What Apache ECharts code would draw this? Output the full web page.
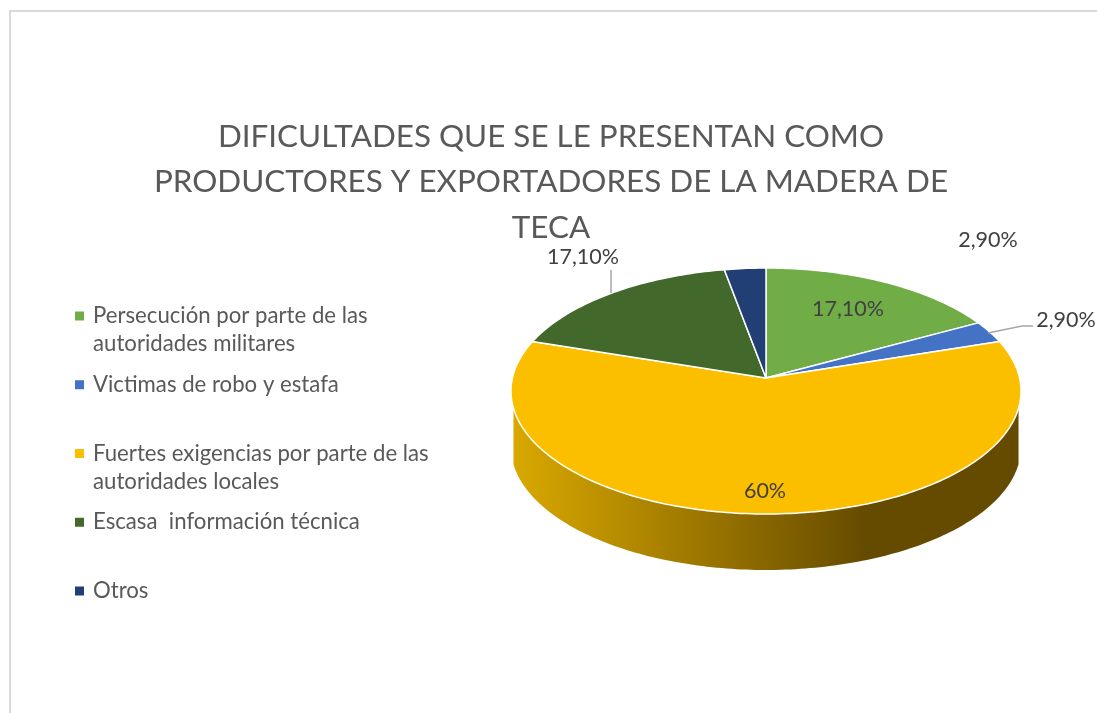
<!DOCTYPE html>
<html>
<head>
<meta charset="utf-8">
<script src="https://cdn.jsdelivr.net/npm/echarts@6/dist/echarts.min.js"></script>
<style>
html, body { margin: 0; padding: 0; background: #fff; }
#chart { width: 1097px; height: 713px; }
</style>
</head>
<body>
<div id="chart"></div>
<script>
var titleText = 'DIFICULTADES QUE SE LE PRESENTAN COMO\nPRODUCTORES Y EXPORTADORES DE LA MADERA DE\nTECA';
var categories = [
    'Persecución por parte de las\nautoridades militares',
    'Victimas de robo y estafa',
    'Fuertes exigencias por parte de las\nautoridades locales',
    'Escasa  información técnica',
    'Otros'
];
var values = [17.1, 2.9, 60, 17.1, 2.9];
var valueLabels = ['17,10%', '2,90%', '60%', '17,10%', '2,90%'];
var colors = ['#70ad47', '#4472c4', '#fcbf00', '#43682b', '#223f75'];

// where each data label sits, and its leader line if it has one
var labelSpots = [
    { x: 848, y: 309 },
    { x: 1066, y: 320, leader: [[988, 333], [1022, 326], [1033, 326]] },
    { x: 765, y: 491 },
    { x: 583, y: 257, leader: [[611, 270], [611, 293]] },
    { x: 988, y: 240 }
];

// pie top is a tilted circle, so the far half looks shorter than the near half
var pie = { cx: 766, cy: 378, a: 253.6, b: 121.6, k: 0.1057, depth: 56 };
var sideFrom = 104, sideTo = 256; // degrees, the part of the rim with a visible wall

function rimPoint(deg, drop) {
    var t = deg * Math.PI / 180;
    var d = 1 + pie.k * Math.cos(t);
    return [
        pie.cx + pie.a * Math.sin(t) / d,
        pie.cy - pie.b * Math.cos(t) / d + (drop || 0)
    ];
}

function arc(from, to, drop) {
    var pts = [];
    var n = Math.max(2, Math.ceil(to - from));
    for (var i = 0; i <= n; i++) {
        pts.push(rimPoint(from + (to - from) * i / n, drop));
    }
    return pts;
}

function renderSlice(params, api) {
    var idx = params.seriesIndex;
    var start = api.value(0) * 3.6;
    var end = api.value(1) * 3.6;
    var children = [];

    var wallFrom = Math.max(start, sideFrom);
    var wallTo = Math.min(end, sideTo);
    if (wallTo > wallFrom) {
        children.push({
            type: 'polygon',
            shape: { points: arc(wallFrom, wallTo, 0).concat(arc(wallFrom, wallTo, pie.depth).reverse()) },
            style: {
                fill: {
                    type: 'linear', x: 0, y: 0, x2: 1, y2: 0,
                    colorStops: [
                        { offset: 0, color: '#d9a800' },
                        { offset: 0.7, color: '#654b00' },
                        { offset: 1, color: '#654b00' }
                    ]
                }
            }
        });
    }

    children.push({
        type: 'polygon',
        shape: { points: [[pie.cx, pie.cy]].concat(arc(start, end, 0)) },
        style: { fill: colors[idx], stroke: '#fff', lineWidth: 1.5, lineJoin: 'round' }
    });

    var spot = labelSpots[idx];
    if (spot.leader) {
        children.push({
            type: 'polyline',
            shape: { points: spot.leader },
            style: { fill: null, stroke: '#a6a6a6', lineWidth: 1.5 }
        });
    }
    children.push({
        type: 'text',
        style: {
            text: valueLabels[idx],
            x: spot.x,
            y: spot.y,
            align: 'center',
            verticalAlign: 'middle',
            fill: '#404040',
            font: '21.5px Lato'
        }
    });
    return { type: 'group', children: children };
}

var running = 0;
var series = categories.map(function (name, i) {
    var from = running;
    running += values[i];
    return {
        type: 'custom',
        name: name,
        coordinateSystem: 'none',
        silent: true,
        itemStyle: { color: colors[i] },
        data: [[from, running]],
        renderItem: renderSlice
    };
});

var myChart = echarts.init(document.getElementById('chart'));
myChart.setOption({
    animation: false,
    backgroundColor: '#fff',
    title: {
        text: titleText,
        left: 546,
        top: 109,
        textAlign: 'center',
        textStyle: {
            color: '#595959',
            fontFamily: 'Lato',
            fontWeight: 'normal',
            fontSize: 31.4,
            lineHeight: 45.5
        }
    },
    legend: {
        orient: 'vertical',
        left: 75,
        top: 274,
        padding: 0,
        itemWidth: 9,
        itemHeight: 9,
        itemGap: -15.25,
        icon: 'rect',
        selectedMode: false,
        data: categories,
        // blank first line keeps the marker beside the first line of text
        formatter: function (name) {
            var lines = name.split('\n');
            return '\n' + lines[0] + '\n' + (lines[1] || ' ');
        },
        textStyle: {
            color: '#595959',
            fontFamily: 'Lato',
            fontSize: 22.2,
            lineHeight: 28,
            padding: [0, 0, 0, 4]
        }
    },
    graphic: [{
        type: 'polyline',
        silent: true,
        shape: { points: [[10, 713], [10, 11], [1097, 11]] },
        style: { fill: null, stroke: '#d9d9d9', lineWidth: 2 }
    }],
    series: series
});
window.addEventListener('resize', function () {
    myChart.resize();
});
</script>
</body>
</html>
